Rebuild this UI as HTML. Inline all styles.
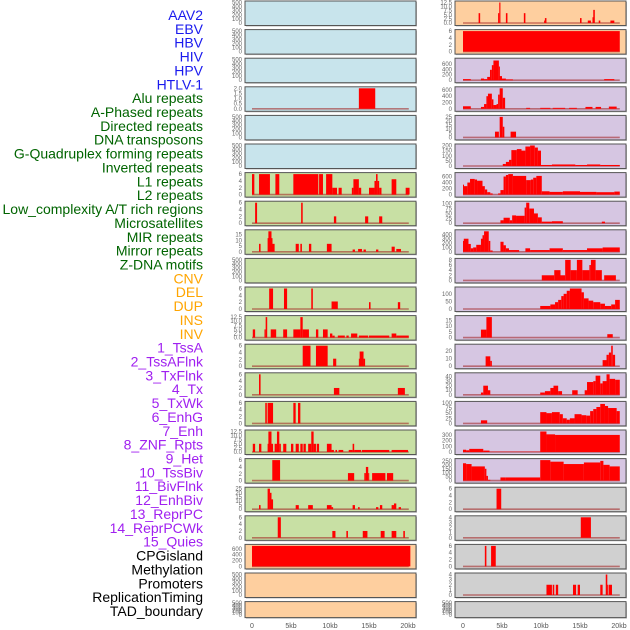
<!DOCTYPE html>
<html><head><meta charset="utf-8"><style>
html,body{margin:0;padding:0;background:#fff;}
svg{display:block;font-family:"Liberation Sans",sans-serif;}
</style></head><body>
<svg id="chart" width="630" height="630" viewBox="0 0 630 630" xmlns="http://www.w3.org/2000/svg"></svg>
<script>
const trackLabels=["AAV2","EBV","HBV","HIV","HPV","HTLV-1","Alu repeats","A-Phased repeats","Directed repeats","DNA transposons","G-Quadruplex forming repeats","Inverted repeats","L1 repeats","L2 repeats","Low_complexity A/T rich regions","Microsatellites","MIR repeats","Mirror repeats","Z-DNA motifs","CNV","DEL","DUP","INS","INV","1_TssA","2_TssAFlnk","3_TxFlnk","4_Tx","5_TxWk","6_EnhG","7_Enh","8_ZNF_Rpts","9_Het","10_TssBiv","11_BivFlnk","12_EnhBiv","13_ReprPC","14_ReprPCWk","15_Quies","CPGisland","Methylation","Promoters","ReplicationTiming","TAD_boundary"];
const labelColors=["#1a1aee","#1a1aee","#1a1aee","#1a1aee","#1a1aee","#1a1aee","#006400","#006400","#006400","#006400","#006400","#006400","#006400","#006400","#006400","#006400","#006400","#006400","#006400","#ffa500","#ffa500","#ffa500","#ffa500","#ffa500","#a020f0","#a020f0","#a020f0","#a020f0","#a020f0","#a020f0","#a020f0","#a020f0","#a020f0","#a020f0","#a020f0","#a020f0","#a020f0","#a020f0","#a020f0","#000","#000","#000","#000","#000"];
const xTicks=[0,5,10,15,20];
const xTickLabels=["0","5kb","10kb","15kb","20kb"];
// segments: [startKb,endKb,value]
const segsL0=[],segsL1=[],segsL2=[],segsL4=[],segsL5=[],segsL9=[],segsL20=[],segsL21=[],segsR21=[];
const segsL3=[[13.7,15.8,2]];
const segsL6=[[0,0.3,6],[0.9,2.3,6],[3.0,3.5,6],[5.3,8.5,6],[8.6,9.1,6],[9.5,10.3,6],[10.3,10.9,2],[11.1,11.5,2],[12.8,13.0,2],[13.0,13.7,4.5],[13.7,14.0,2],[15.0,15.7,2],[15.7,15.9,4],[15.9,16.1,6],[16.1,16.3,4],[16.3,16.6,2],[17.9,18.5,4.5],[19.7,20.2,2]];
const segsL7=[[0.4,0.65,6],[6.3,6.5,6],[10.5,10.8,2],[14.5,14.9,2],[16.3,16.7,2]];
const segsL8=[[0.9,1.1,7],[2.0,2.1,12],[2.1,2.5,18],[2.5,2.6,12],[2.6,2.9,7],[5.6,6.0,7],[6.2,6.4,7],[7.3,7.6,7],[9.6,10.2,7],[12.9,13.2,2],[13.6,14.1,2.5],[14.3,14.6,2],[15.9,16.2,2],[17.9,18.3,4.5],[18.5,19.1,2.5]];
const segsL10=[[2.2,2.7,6],[4.1,4.5,6],[7.6,7.8,6],[10.2,11.0,2.2],[15.0,15.2,2],[18.7,19.0,2]];
const segsL11=[[0.1,0.4,5],[1.6,1.75,5],[1.75,1.95,12.5],[2.4,3.1,5],[4.0,4.5,5],[5.3,6.2,5],[6.2,6.5,12.5],[6.5,7.3,5],[8.2,8.5,5],[9.1,9.7,5],[10.0,10.3,2.5],[10.3,10.6,1.2],[11.0,11.9,1.25],[12.1,12.4,1.25],[12.7,13.5,2.5],[13.7,14.9,1.25],[15.0,17.6,1.25],[17.9,18.5,2.5],[18.5,20.1,1.25]];
const segsL12=[[6.5,7.5,6],[8.2,9.7,6],[10.4,10.8,2.2],[13.7,13.8,2.2],[13.8,14.3,4.3],[14.3,14.5,2.2]];
const segsL13=[[0.9,1.1,6],[10.5,11.2,2],[18.7,19.6,2]];
const segsL14=[[1.7,1.9,6],[2.0,2.7,6],[5.3,5.6,6],[5.9,6.2,6]];
const segsL15=[[0.1,0.4,5],[0.9,1.2,5],[2.0,2.1,5],[2.1,2.5,12.5],[2.5,2.7,5],[2.9,3.2,5],[3.2,3.5,12.5],[3.5,3.7,5],[4.0,4.4,5],[5.0,5.3,5],[5.6,6.0,5],[6.2,6.5,5],[6.6,6.9,5],[7.2,7.6,5],[7.6,7.9,12.5],[7.9,8.2,5],[8.3,8.6,5],[9.6,10.2,5],[10.2,10.5,1.25],[10.7,10.9,1.25],[11.1,11.7,1.25],[12.4,12.9,1.25],[12.9,13.1,5],[13.1,14.0,1.25],[14.1,17.6,1.25],[17.9,20.0,1.25]];
const segsL16=[[2.6,3.6,6],[12.3,13.1,2.2],[14.4,14.6,2.2],[14.6,14.9,4],[14.9,15.0,2.2],[15.4,17.1,2.2],[17.3,18.1,2.2]];
const segsL17=[[0.9,1.1,5],[2.0,2.3,25],[2.3,2.5,20],[2.5,2.7,12],[5.6,6.0,5],[7.2,7.8,5],[9.6,10.2,5],[10.2,10.4,2.5],[12.9,13.2,5],[13.6,13.8,2.5],[15.9,16.2,2.5],[16.4,16.7,5],[17.9,18.2,5],[18.2,18.5,7],[18.8,19.1,2.5]];
const segsL18=[[3.3,3.7,6],[10.3,10.7,2],[12.1,12.3,2],[14.2,14.8,2],[16.5,17.0,2],[17.9,18.5,2],[19.4,19.6,2]];
const segsL19=[[0,20.3,700]];
const segsR0=[[2.0,2.2,6],[4.5,4.65,6],[4.65,4.8,12.5],[5.5,5.7,6],[7.8,8.0,6],[10.4,10.5,1.5],[10.5,10.7,3],[15.0,15.2,3],[16.0,16.4,1.5],[16.6,16.7,3.5],[16.7,16.9,8],[17.4,17.6,1.5],[18.9,19.4,1.5]];
const segsR1=[[0,20.1,6]];
const segsR2=[[0,1.0,40],[2.3,2.7,60],[2.7,3.1,40],[3.1,3.46,120],[3.46,3.7,380],[3.7,3.9,550],[3.9,4.6,720],[4.6,4.7,500],[4.7,5.0,150],[5.0,5.5,60],[5.5,6.4,30],[18.1,19.4,40]];
const segsR3=[[0,1.0,80],[2.3,2.7,60],[2.7,3.0,150],[3.0,3.2,400],[3.2,3.7,480],[3.7,3.9,300],[3.9,4.3,120],[4.3,4.5,150],[4.5,4.7,450],[4.7,5.1,650],[5.1,5.4,350],[8.1,8.6,30],[9.9,11.2,30],[11.5,13.1,30],[13.6,14.6,30],[15.7,16.6,60],[17.0,17.7,60],[18.7,19.7,70]];
const segsR4=[[4.1,4.6,7],[4.7,5.1,25],[5.1,5.3,13],[6.1,6.8,7]];
const segsR5=[[5.1,5.5,20],[5.5,5.9,40],[5.9,6.2,60],[6.2,6.9,155],[6.9,7.5,165],[7.5,8.0,150],[8.0,8.6,190],[8.6,9.2,200],[9.2,9.6,180],[9.6,10.0,150],[10.0,11.4,10],[11.4,14.4,15],[14.4,15.9,10],[15.9,17.6,15],[17.6,20.1,10]];
const segsR6=[[0,0.13,330],[0.13,0.56,280],[0.56,0.9,400],[0.9,1.5,520],[1.5,1.8,500],[1.8,2.5,460],[2.5,2.8,280],[2.8,3.1,170],[3.1,3.5,80],[3.5,3.8,40],[4.5,4.8,40],[4.8,5.2,150],[5.2,5.5,600],[5.5,5.8,650],[5.8,6.4,680],[6.4,8.1,620],[8.1,8.7,480],[8.7,9.0,500],[9.0,9.4,560],[9.4,10.1,620],[10.1,11.1,110],[11.1,12.8,90],[12.8,15.0,110],[15.0,17.1,90],[17.1,19.4,80],[19.4,20.1,100]];
const segsR7=[[4.8,5.2,15],[5.2,6.0,28],[6.0,6.3,15],[6.3,6.8,40],[6.8,7.9,38],[7.9,8.1,80],[8.1,8.5,105],[8.5,9.1,75],[9.1,9.6,50],[9.6,10.1,30],[10.1,11.4,8],[11.4,12.8,10],[17.8,18.2,8]];
const segsR8=[[0,0.1,250],[0.1,0.7,300],[0.7,1.0,180],[1.0,1.3,80],[1.3,1.7,100],[1.7,2.3,160],[2.3,2.5,300],[2.5,2.7,380],[2.7,3.3,470],[3.3,3.5,250],[3.5,3.8,30],[4.8,5.2,230],[5.2,5.5,150],[5.5,5.9,80],[5.9,7.2,40],[8.0,8.6,80],[8.6,11.1,40],[11.1,12.8,80],[12.8,15.9,40],[15.9,17.9,80],[17.9,20.1,100]];
const segsR9=[[10.1,11.7,2],[11.7,12.5,4],[12.5,13.1,2],[13.1,13.8,8],[13.8,14.6,4],[14.6,15.3,8],[15.3,16.2,4],[16.2,16.4,6],[16.4,17.0,8],[17.0,17.8,4],[18.1,19.6,2]];
const segsR10=[[9.9,11.2,20],[11.2,11.8,30],[11.8,12.2,45],[12.2,12.6,60],[12.6,12.9,85],[12.9,13.3,100],[13.3,13.7,120],[13.7,15.2,135],[15.2,15.5,110],[15.5,16.1,70],[16.1,16.7,55],[16.7,17.6,45],[17.6,18.2,35],[18.2,19.0,20],[19.0,19.5,30],[19.5,20.1,60]];
const segsR11=[[2.3,3.0,7],[3.0,3.7,18],[18.5,19.2,3]];
const segsR12=[[2.9,3.5,13],[3.5,3.7,7],[17.9,18.4,8],[18.4,18.7,15],[18.7,19.0,18],[19.0,19.2,27],[19.2,19.5,15]];
const segsR13=[[2.3,2.6,5],[2.6,3.2,20],[3.2,3.5,10],[9.9,10.5,5],[10.5,11.2,8],[11.2,11.6,15],[11.6,12.2,20],[12.2,12.7,8],[14.0,14.7,10],[15.6,15.9,10],[15.9,16.7,28],[16.7,17.0,30],[17.0,17.6,42],[17.6,17.9,25],[17.9,18.4,30],[18.4,18.8,45],[18.8,19.5,35],[19.5,20.1,33]];
const segsR14=[[2.3,3.1,15],[9.9,10.7,55],[10.7,11.4,50],[11.4,12.4,55],[12.4,12.8,45],[12.8,13.3,25],[13.3,13.7,18],[13.7,14.3,25],[14.3,15.2,45],[15.2,15.8,40],[15.8,16.3,38],[16.3,16.7,60],[16.7,17.1,70],[17.1,17.6,80],[17.6,18.2,95],[18.2,18.6,85],[18.6,19.7,75],[19.7,20.1,60]];
const segsR15=[[0,0.4,40],[0.4,0.8,30],[0.8,2.6,55],[2.6,3.4,25],[3.4,9.9,5],[9.9,10.7,360],[10.7,11.8,310],[11.8,20.1,300]];
const segsR16=[[0,0.4,220],[0.4,1.1,210],[1.1,2.8,180],[2.8,3.0,150],[3.0,3.2,60],[3.2,3.5,10],[4.8,5.4,40],[5.4,9.9,40],[9.9,11.2,260],[11.2,12.9,240],[12.9,15.5,210],[15.5,17.6,230],[17.6,18.0,250],[18.0,18.8,200],[18.8,20.1,180]];
const segsR17=[[4.3,4.9,6]];
const segsR18=[[15.1,16.4,4]];
const segsR19=[[2.8,3.0,6],[3.6,4.2,6]];
const segsR20=[[10.7,11.4,2],[11.5,11.7,2],[11.9,12.2,2],[14.1,14.5,2],[14.7,15.0,2],[17.6,17.9,2],[18.3,18.5,4],[18.5,18.6,2],[18.7,19.1,2]];

const T500=[0,100,200,300,400,500],T6=[0,2,4,6],T125=[0,2.5,5,7.5,10,12.5],T25=[0,5,10,15,20,25];
const BLUE="#c8e4ec",GREEN="#c8e0a4",ORANGE="#fecf9f",PURPLE="#d6c6e2",GRAY="#d0d0d0";
const leftPanels=[
[segsL0,500,T500,BLUE],[segsL1,500,T500,BLUE],[segsL2,500,T500,BLUE],[segsL3,2,[0,0.5,1,1.5,2],BLUE],[segsL4,500,T500,BLUE],[segsL5,500,T500,BLUE],
[segsL6,6,T6,GREEN],[segsL7,6,T6,GREEN],[segsL8,18,[0,5,10,15],GREEN],[segsL9,500,T500,GREEN],[segsL10,6,T6,GREEN],[segsL11,12.5,T125,GREEN],[segsL12,6,T6,GREEN],[segsL13,6,T6,GREEN],[segsL14,6,T6,GREEN],[segsL15,12.5,T125,GREEN],[segsL16,6,T6,GREEN],[segsL17,25,T25,GREEN],[segsL18,6,T6,GREEN],
[segsL19,700,[0,200,400,600],ORANGE],[segsL20,500,T500,ORANGE],[segsL21,500,T500,ORANGE]];
const rightPanels=[
[segsR0,12.5,T125,ORANGE],[segsR1,6,T6,ORANGE],
[segsR2,750,[0,200,400,600],PURPLE],[segsR3,650,[0,200,400,600],PURPLE],[segsR4,25,T25,PURPLE],[segsR5,200,[0,50,100,150,200],PURPLE],[segsR6,680,[0,200,400,600],PURPLE],[segsR7,105,[0,25,50,75,100],PURPLE],[segsR8,470,[0,100,200,300,400],PURPLE],[segsR9,8,[0,2,4,6,8],PURPLE],[segsR10,135,[0,50,100],PURPLE],[segsR11,18,[0,5,10,15],PURPLE],[segsR12,27,[0,10,20],PURPLE],[segsR13,45,[0,10,20,30,40],PURPLE],[segsR14,100,[0,25,50,75,100],PURPLE],[segsR15,360,[0,100,200,300],PURPLE],[segsR16,260,[0,50,100,150,200,250],PURPLE],
[segsR17,6,T6,GRAY],[segsR18,4,[0,1,2,3,4],GRAY],[segsR19,6,T6,GRAY],[segsR20,4,[0,1,2,3,4],GRAY],[segsR21,500,T500,GRAY]];

const NS="http://www.w3.org/2000/svg";
const svg=document.getElementById("chart");
function mk(tag,attrs,parent){const e=document.createElementNS(NS,tag);for(const k in attrs)e.setAttribute(k,attrs[k]);(parent||svg).appendChild(e);return e;}
const KB=7.8;
function fmt(v,list){const dec=list.some(t=>t%1!==0);return dec?v.toFixed(1):String(v);}

// labels
const lblTop=15,lblStep=13.86;
trackLabels.forEach((t,i)=>{
  const el=mk("text",{x:203,y:lblTop+i*lblStep+5,"text-anchor":"end","font-size":"14",fill:labelColors[i]});
  el.textContent=t;
  
  
});

function drawCol(panels,colLeft,colRight,x0,side){
  panels.forEach((p,i)=>{
    const segs=p[0],ymax=p[1],ticks=p[2],bg=p[3];
    const top=1+i*28.6;
    const h=(i===21)?16:24.5;
    const g=mk("g",{});
    
    
    mk("rect",{x:colLeft+1,y:top+1,width:colRight-colLeft,height:h,fill:"#bbb"},g);
    const fr=mk("rect",{x:colLeft,y:top,width:colRight-colLeft,height:h,fill:bg,stroke:"#555","stroke-width":"1"},g);
    
    
    const base=top+h-2.5;
    const sc=(h-4)/ymax;
    const yOf=v=>base-v*sc;
    const xOf=kb=>x0+kb*KB;
    ticks.forEach(tv=>{
      const tt=mk("text",{x:colLeft-3,y:yOf(tv)+2,"text-anchor":"end","font-size":"6",fill:"#666"},g);
      tt.textContent=fmt(tv,ticks);
      
      
    });
    if(segs.length){
      const bl=mk("line",{x1:xOf(0),x2:xOf(20.1),y1:base,y2:base,stroke:"rgba(160,30,30,0.55)","stroke-width":"1.6"},g);
      
      
    }
    segs.forEach(s=>{
      const xa=xOf(s[0]),xb=xOf(s[1]);
      const r=mk("rect",{x:xa,y:yOf(s[2]),width:Math.max(1,xb-xa),height:s[2]*sc,fill:"#ff0000"},g);
      
      
    });
  });
  xTicks.forEach((kb,j)=>{
    const t=mk("text",{x:x0+kb*KB,y:628,"text-anchor":"middle","font-size":"7",fill:"#555"});
    t.textContent=xTickLabels[j];
    
    
  });
}
drawCol(leftPanels,245,416,252,"left");
drawCol(rightPanels,455,626,463,"right");
</script>
</body></html>
